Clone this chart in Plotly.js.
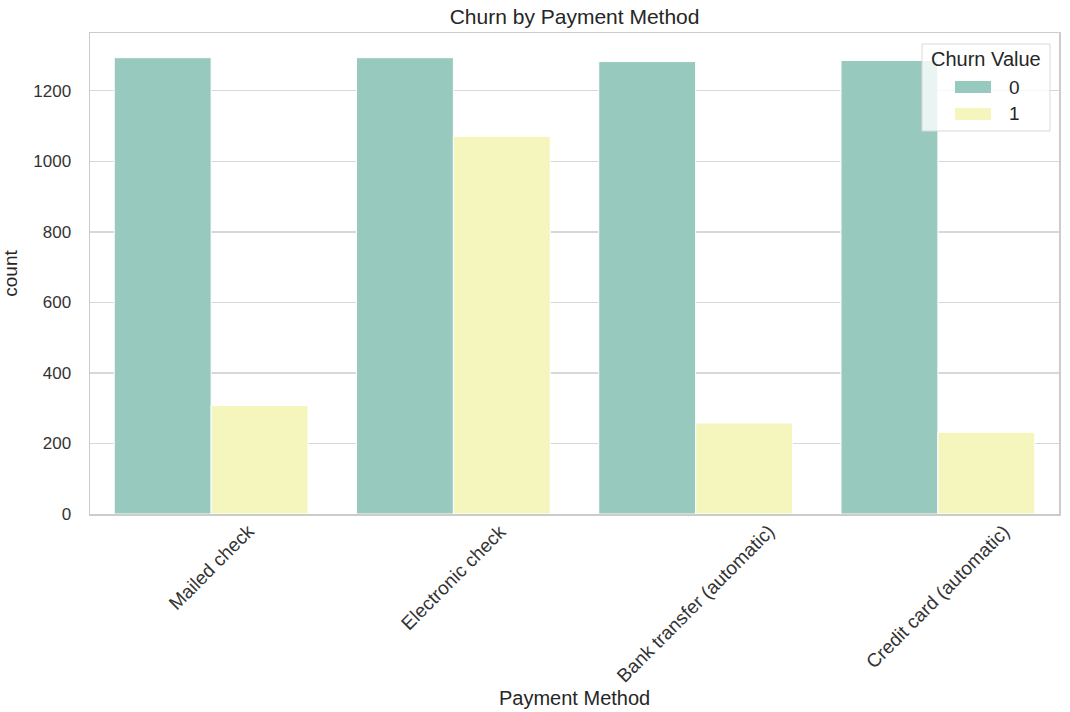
<!DOCTYPE html>
<html>
<head>
<meta charset="utf-8">
<script src="https://cdn.plot.ly/plotly-3.0.1.min.js"></script>
<style>
  html, body { margin: 0; padding: 0; background: #ffffff; }
  #chart { width: 1070px; height: 712px; }
</style>
</head>
<body>
<div id="chart"></div>
<script>
// Payment methods on the x axis
const paymentMethods = ['Mailed check', 'Electronic check', 'Bank transfer (automatic)', 'Credit card (automatic)'];
// Customer counts per churn value
const churn0 = [1294, 1294, 1283, 1286];
const churn1 = [308, 1071, 258, 232];
const churnLabels = ['0', '1'];
const yTicks = [0, 200, 400, 600, 800, 1000, 1200];

const font = 'Liberation Sans, Arial, sans-serif';
const textColor = '#333333';
const headColor = '#262626';
const colors = ['#98c9be', '#f4f6bd'];

// Plot area in pixels, used to place the hand-built legend
const W = 1070, H = 712;
const M = { l: 90, r: 11, t: 33, b: 198 };
const pw = W - M.l - M.r, ph = H - M.t - M.b;
const px = v => (v - M.l) / pw;
const py = v => (H - M.b - v) / ph;

const traces = [churn0, churn1].map((vals, i) => ({
  type: 'bar', name: churnLabels[i], x: paymentMethods, y: vals,
  showlegend: false,
  marker: { color: colors[i], line: { color: '#ffffff', width: 1 } }
}));

// Rotated category labels centred under each group
const annotations = paymentMethods.map(m => ({
  x: m, xref: 'x', y: 0, yref: 'paper',
  text: m, showarrow: false, textangle: -45,
  xanchor: 'center', yanchor: 'top', yshift: -4,
  font: { family: font, size: 19, color: textColor }
}));

// x-axis title sits low under the rotated labels
annotations.push({
  x: 0.5, xref: 'paper', y: py(711), yref: 'paper',
  text: 'Payment Method', showarrow: false,
  xanchor: 'center', yanchor: 'bottom',
  font: { family: font, size: 20, color: headColor }
});

// Legend: frame, title, swatches and labels
const shapes = [{
  type: 'rect', xref: 'paper', yref: 'paper', layer: 'above',
  x0: px(922), x1: px(1050), y0: py(44), y1: py(131),
  fillcolor: 'rgba(255,255,255,0.8)', line: { color: '#d9d9d9', width: 1 }
}];
annotations.push({
  x: px(986), xref: 'paper', y: py(59), yref: 'paper',
  text: 'Churn Value', showarrow: false, xanchor: 'center', yanchor: 'middle',
  font: { family: font, size: 20, color: headColor }
});
churnLabels.forEach((lab, i) => {
  const cy = 87 + i * 27;
  shapes.push({
    type: 'rect', xref: 'paper', yref: 'paper', layer: 'above',
    x0: px(955), x1: px(991), y0: py(cy - 6), y1: py(cy + 6),
    fillcolor: colors[i], line: { width: 0 }
  });
  annotations.push({
    x: px(1007), xref: 'paper', y: py(cy), yref: 'paper',
    text: lab, showarrow: false, xanchor: 'left', yanchor: 'middle',
    font: { family: font, size: 19, color: headColor }
  });
});

const layout = {
  width: W, height: H,
  margin: M,
  paper_bgcolor: '#ffffff', plot_bgcolor: '#ffffff',
  barmode: 'group', bargap: 0.2, bargroupgap: 0,
  showlegend: false,
  font: { family: font, color: textColor, size: 17 },
  title: {
    text: 'Churn by Payment Method',
    x: 0.537, xanchor: 'center', y: 0.977, yanchor: 'middle',
    font: { family: font, size: 21, color: headColor }
  },
  xaxis: {
    type: 'category', showticklabels: false, ticks: '',
    showgrid: false, zeroline: false, automargin: false,
    showline: true, linecolor: '#cccccc', linewidth: 1.5, mirror: true
  },
  yaxis: {
    range: [0, 1364], tickvals: yTicks, automargin: false,
    showgrid: true, gridcolor: '#d8d8d8', gridwidth: 1.3,
    zeroline: false, ticks: '', ticklabelstandoff: 14,
    showline: true, linecolor: '#cccccc', linewidth: 1.5, mirror: true,
    tickfont: { family: font, size: 17, color: textColor },
    title: { text: 'count', standoff: 14, font: { family: font, size: 19, color: headColor } }
  },
  shapes: shapes,
  annotations: annotations
};

Plotly.newPlot('chart', traces, layout, { staticPlot: true, displayModeBar: false });
</script>
</body>
</html>
